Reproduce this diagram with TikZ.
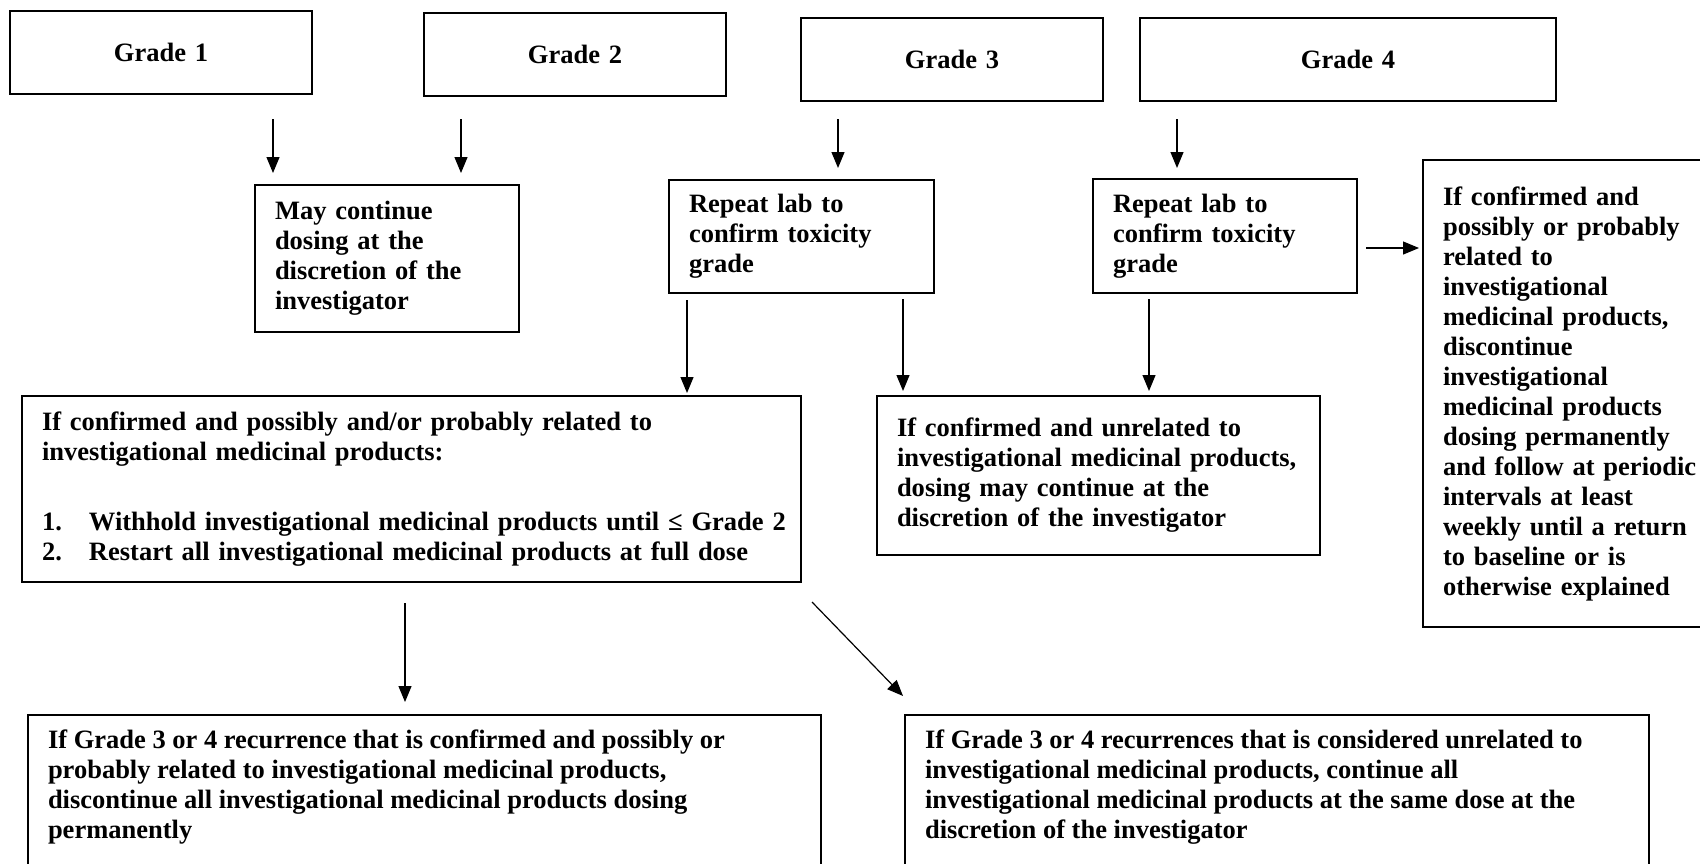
\documentclass[tikz,border=0pt]{standalone}
\usepackage{fontspec}
\setmainfont{Liberation Serif}
\usetikzlibrary{arrows.meta,calc}
\newcommand\boxfont{\fontsize{13.25pt}{15pt}\selectfont\bfseries}
\tikzset{
  box/.style={draw, line width=1pt, anchor=north west, align=left, inner xsep=10pt, inner ysep=0pt, font=\boxfont},
  gbox/.style={box, align=center},
  arr/.style={-{Triangle[length=8pt,width=6.5pt]}, line width=0.6pt},
}
\begin{document}
\begin{tikzpicture}[x=0.5pt,y=-0.5pt]
\useasboundingbox (0,0) rectangle (1700,863);
% grade boxes
\node[gbox, text width=131pt, minimum width=151pt, minimum height=41.5pt] (G1) at (9,10) {Grade 1};
\node[gbox, text width=131pt, minimum width=151pt, minimum height=41.5pt] (G2) at (423,12) {Grade 2};
\node[gbox, text width=131pt, minimum width=151pt, minimum height=41.5pt] (G3) at (800,17) {Grade 3};
\node[gbox, text width=188pt, minimum width=208pt, minimum height=41.5pt] (G4) at (1139,17) {Grade 4};
% second row
\node[box, text width=112pt, minimum width=132pt, minimum height=73.5pt] (MC) at (254,184)
  {May continue\\dosing at the\\discretion of the\\investigator};
\node[box, text width=112.5pt, minimum width=132.5pt, minimum height=56.5pt] (RL3) at (668,179)
  {Repeat lab to\\confirm toxicity\\grade};
\node[box, text width=112pt, minimum width=132pt, minimum height=57pt] (RL4) at (1092,178)
  {Repeat lab to\\confirm toxicity\\grade};
\node[box, text width=130pt, minimum width=150pt, minimum height=233.5pt] (RB) at (1422,159)
  {If confirmed and\\possibly or probably\\related to\\investigational\\medicinal products,\\discontinue\\investigational\\medicinal products\\dosing permanently\\and follow at periodic\\intervals at least\\weekly until a return\\to baseline or is\\otherwise explained};
% third row
\node[box, text width=369.5pt, minimum width=389.5pt, minimum height=93pt] (BL) at (21,395)
  {\mbox{If confirmed and possibly and/or probably related to}\\\mbox{investigational medicinal products:}\\[20pt]
   \mbox{\makebox[23.5pt][l]{1.}Withhold investigational medicinal products until ≤ Grade 2}\\
   \mbox{\makebox[23.5pt][l]{2.}Restart all investigational medicinal products at full dose}\\[4pt]};
\node[box, text width=201.5pt, minimum width=221.5pt, minimum height=79.5pt] (UN) at (876,395)
  {If confirmed and unrelated to\\investigational medicinal products,\\dosing may continue at the\\discretion of the investigator};
% bottom row
\node[box, inner ysep=6pt] (BotL) at (27,714)
  {\parbox[t][88pt][t]{376.5pt}{\strut If Grade 3 or 4 recurrence that is confirmed and possibly or\\probably related to investigational medicinal products,\\discontinue all investigational medicinal products dosing\\permanently}};
\node[box, inner ysep=6pt] (BotR) at (904,714)
  {\parbox[t][88pt][t]{352pt}{\strut If Grade 3 or 4 recurrences that is considered unrelated to\\investigational medicinal products, continue all\\investigational medicinal products at the same dose at the\\discretion of the investigator}};
% connectors
\draw[arr, shorten <=12pt, shorten >=5.5pt] (G1.south -| 273,0) -- (MC.north -| 273,0);
\draw[arr, shorten <=11pt, shorten >=5.5pt] (G2.south -| 461,0) -- (MC.north -| 461,0);
\draw[arr, shorten <=8.5pt, shorten >=5.5pt] (G3.south -| 838,0) -- (RL3.north -| 838,0);
\draw[arr, shorten <=8.5pt, shorten >=5pt] (G4.south -| 1177,0) -- (RL4.north -| 1177,0);
\draw[arr, shorten <=3pt, shorten >=1pt] (RL3.south -| 687,0) -- (BL.north -| 687,0);
\draw[arr, shorten <=2.5pt, shorten >=2pt] (RL3.south -| 903,0) -- (UN.north -| 903,0);
\draw[arr, shorten <=2.5pt, shorten >=2pt] (RL4.south -| 1149,0) -- (UN.north -| 1149,0);
\draw[arr, shorten <=4pt, shorten >=1.5pt] (RL4.east |- 0,248) -- (RB.west |- 0,248);
\draw[arr, shorten <=10pt, shorten >=6pt] (BL.south -| 405,0) -- (BotL.north -| 405,0);
\draw[arr] ($(BL.south east)+(10,19)$) -- ($(BotR.north west)+(-1,-18)$);
\end{tikzpicture}
\end{document}
